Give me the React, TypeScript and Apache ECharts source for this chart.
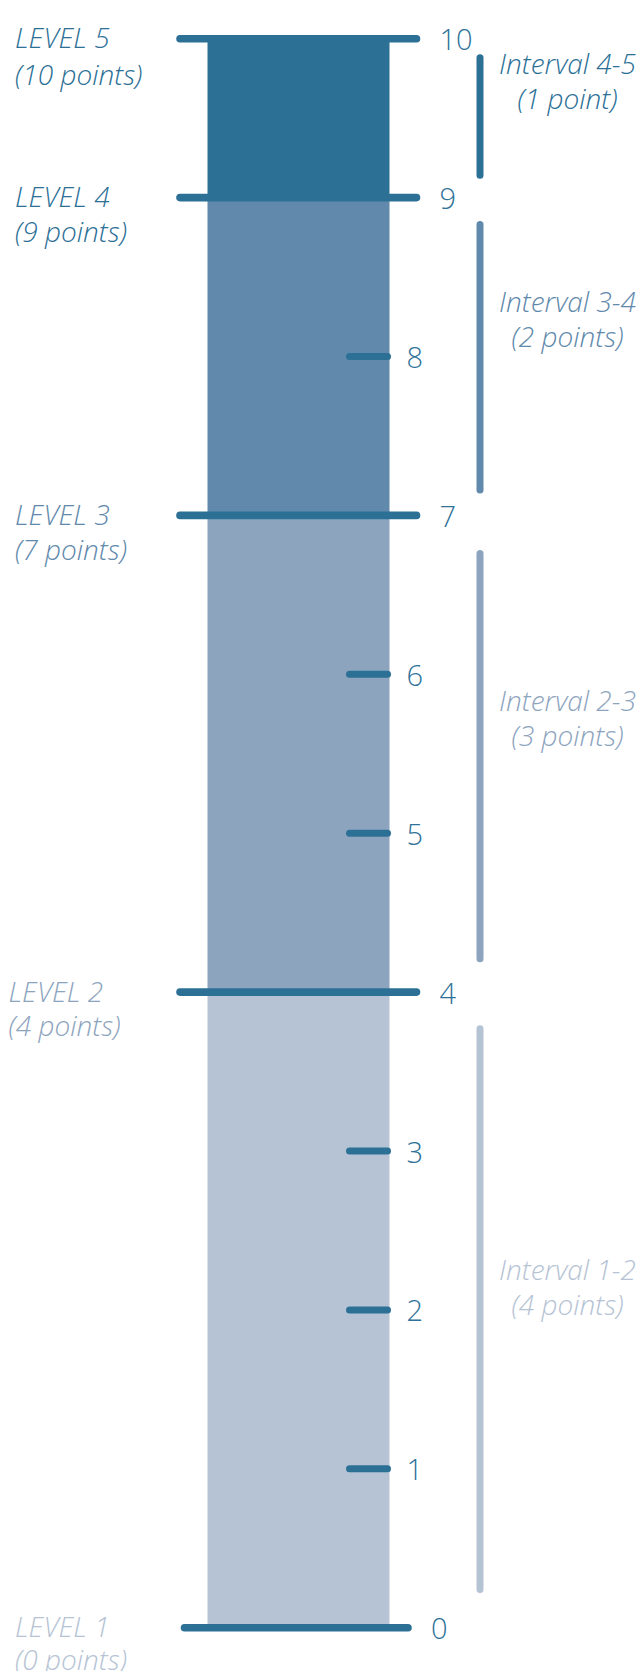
import React, { useEffect, useRef } from "react";
import * as echarts from "echarts";

// ---- data ----
const LEVELS = [0, 4, 7, 9, 10];
const LEVEL_NAMES = ["LEVEL 1", "LEVEL 2", "LEVEL 3", "LEVEL 4", "LEVEL 5"];
const LEVEL_POINTS = ["(0 points)", "(4 points)", "(7 points)", "(9 points)", "(10 points)"];
const MINOR_TICKS = [1, 2, 3, 5, 6, 8];
const INTERVAL_NAMES = ["Interval 1-2", "Interval 2-3", "Interval 3-4", "Interval 4-5"];
const INTERVAL_POINTS = ["(4 points)", "(3 points)", "(2 points)", "(1 point)"];
const INTERVAL_START = [0.24, 4.21, 7.16, 9.14];
const INTERVAL_END = [3.77, 6.76, 8.83, 9.88];
const INTERVAL_LABEL_AT = [2.15, 5.73, 8.24, 9.74];

// ---- styles ----
const SEGMENT_COLORS = ["#b5c3d4", "#8da4be", "#6189ab", "#2c7096"];
const LEVEL_LABEL_COLORS = ["#b5c3d4", "#8da4be", "#6189ab", "#2c7096", "#2c7096"];
const LEVEL_LABEL_DX = [-283.5, -290, -283.5, -283.5, -283.5];
const LEVEL_LABEL_LH = [33, 34, 35, 35, 37];
const LINE_COLOR = "#2c7096";
const NUM_COLOR = "#2f7299";
const NUM_FONT = '300 29px "Open Sans"';
const LABEL_FONT = 'italic 300 28px "Open Sans"';

export default function App() {
  const ref = useRef<HTMLDivElement>(null);

  useEffect(() => {
    document.body.style.margin = "0";
    const chart = echarts.init(ref.current!, null, { renderer: "svg" });
    const segments = LEVELS.slice(1).map((v, i) => v - LEVELS[i]);

    const barSeries = segments.map((s, i) => ({
      type: "bar",
      stack: "total",
      data: [s],
      barWidth: 182,
      itemStyle: { color: SEGMENT_COLORS[i] },
      silent: true,
      z: 1,
    }));

    const levelSeries = {
      type: "custom",
      data: LEVELS.map((v) => [0, v]),
      clip: false,
      z: 5,
      renderItem: (params: any, api: any) => {
        const i = params.dataIndex;
        const [cx, y] = api.coord([0, api.value(1)]);
        const isBottom = i === 0;
        const x1 = cx + (isBottom ? -114 : -118.5);
        const x2 = cx + (isBottom ? 109.5 : 118);
        const lh = LEVEL_LABEL_LH[i];
        return {
          type: "group",
          children: [
            {
              type: "line",
              shape: { x1, y1: y, x2, y2: y },
              style: { stroke: LINE_COLOR, lineWidth: 7.6, lineCap: "round" },
            },
            {
              type: "text",
              x: x2 + 23,
              y: y,
              style: {
                text: String(LEVELS[i]),
                fill: NUM_COLOR,
                font: NUM_FONT,
                align: "left",
                verticalAlign: "middle",
              },
            },
            {
              type: "text",
              x: cx + LEVEL_LABEL_DX[i],
              y: y + lh / 2 - 1.5,
              style: {
                text: LEVEL_NAMES[i] + "\n" + LEVEL_POINTS[i],
                fill: LEVEL_LABEL_COLORS[i],
                font: LABEL_FONT,
                lineHeight: lh,
                align: "left",
                verticalAlign: "middle",
              },
            },
          ],
        };
      },
    };

    const minorSeries = {
      type: "custom",
      data: MINOR_TICKS.map((v) => [0, v]),
      clip: false,
      z: 5,
      renderItem: (params: any, api: any) => {
        const i = params.dataIndex;
        const [cx, y] = api.coord([0, api.value(1)]);
        const x1 = cx + 51;
        const x2 = cx + 89;
        return {
          type: "group",
          children: [
            {
              type: "line",
              shape: { x1, y1: y, x2, y2: y },
              style: { stroke: LINE_COLOR, lineWidth: 7, lineCap: "round" },
            },
            {
              type: "text",
              x: x2 + 19,
              y: y,
              style: {
                text: String(MINOR_TICKS[i]),
                fill: NUM_COLOR,
                font: NUM_FONT,
                align: "left",
                verticalAlign: "middle",
              },
            },
          ],
        };
      },
    };

    const intervalSeries = {
      type: "custom",
      data: INTERVAL_START.map((s, i) => [0, s, INTERVAL_END[i], INTERVAL_LABEL_AT[i]]),
      clip: false,
      z: 5,
      encode: { x: 0, y: [1, 2, 3] },
      renderItem: (params: any, api: any) => {
        const i = params.dataIndex;
        const [cx, ys] = api.coord([0, api.value(1)]);
        const [, ye] = api.coord([0, api.value(2)]);
        const [, yl] = api.coord([0, api.value(3)]);
        const lx = cx + 181.5;
        return {
          type: "group",
          children: [
            {
              type: "line",
              shape: { x1: lx, y1: ys, x2: lx, y2: ye },
              style: { stroke: SEGMENT_COLORS[i], lineWidth: 7, lineCap: "round" },
            },
            {
              type: "text",
              x: cx + 269,
              y: yl,
              style: {
                text: INTERVAL_NAMES[i] + "\n" + INTERVAL_POINTS[i],
                fill: SEGMENT_COLORS[i],
                font: LABEL_FONT,
                lineHeight: 35,
                align: "center",
                verticalAlign: "middle",
              },
            },
          ],
        };
      },
    };

    chart.setOption({
      animation: false,
      grid: { left: 0, right: 46, top: 38.7, bottom: 43.3 },
      xAxis: { type: "category", data: ["scale"], show: false },
      yAxis: { type: "value", min: 0, max: 10, show: false },
      series: [...barSeries, levelSeries, minorSeries, intervalSeries],
    } as any);

    return () => chart.dispose();
  }, []);

  return <div ref={ref} style={{ width: 643, height: 1671 }} />;
}
